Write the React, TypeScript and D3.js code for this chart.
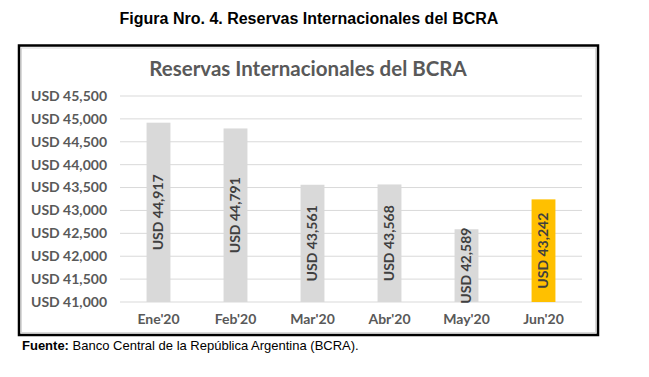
import React from "react";
import * as d3 from "d3";

const categories: string[] = ["Ene'20", "Feb'20", "Mar'20", "Abr'20", "May'20", "Jun'20"];
const reserves: number[] = [44917, 44791, 43561, 43568, 42589, 43242];
const yTicks: number[] = [41000, 41500, 42000, 42500, 43000, 43500, 44000, 44500, 45000, 45500];

const W = 649;
const H = 377;
const plot = { left: 120, right: 582, top: 96, bottom: 302 };
const FONT = "Lato, 'Open Sans', sans-serif";
const GREY_TEXT = "#595959";

const fmt = (v: number) => "USD " + d3.format(",")(v);

export default function App() {
  const x = d3
    .scaleBand<string>()
    .domain(categories)
    .range([plot.left, plot.right])
    .paddingInner(0.69)
    .paddingOuter(0.345);
  const y = d3.scaleLinear().domain([41000, 45500]).range([plot.bottom, plot.top]);

  return (
    <svg
      width={W}
      height={H}
      style={{ position: "absolute", left: 0, top: 0, background: "#fff" }}
    >
      <rect x={0} y={0} width={W} height={H} fill="#fff" />
      <text
        x={309}
        y={24}
        textAnchor="middle"
        fontFamily="'Liberation Sans', Arial, sans-serif"
        fontWeight="bold"
        fontSize={16}
        fill="#000"
      >
        Figura Nro. 4. Reservas Internacionales del BCRA
      </text>
      {/* chart frame */}
      <rect x={19} y={45.5} width={579} height={289.5} fill="#fff" stroke="#000" strokeWidth={2.5} />
      <rect x={21.5} y={48} width={574} height={284.5} fill="none" stroke="#d9d9d9" strokeWidth={1} />
      <text
        x={308}
        y={76}
        textAnchor="middle"
        fontFamily={FONT}
        fontWeight="bold"
        fontSize={20.5}
        fill={GREY_TEXT}
      >
        Reservas Internacionales del BCRA
      </text>
      {/* gridlines */}
      {yTicks.map((t) => (
        <line
          key={"g" + t}
          x1={plot.left}
          x2={plot.right}
          y1={y(t)}
          y2={y(t)}
          stroke="#d9d9d9"
          strokeWidth={1}
        />
      ))}
      {yTicks.map((t) => (
        <text
          key={"t" + t}
          x={107}
          y={y(t)}
          dy="0.35em"
          textAnchor="end"
          fontFamily={FONT}
          fontWeight="bold"
          fontSize={14}
          fill={GREY_TEXT}
        >
          {fmt(t)}
        </text>
      ))}
      {/* bars */}
      {categories.map((c, i) => {
        const v = reserves[i];
        const bx = x(c) as number;
        const bw = x.bandwidth();
        const top = y(v);
        const isLast = i === categories.length - 1;
        const cy = (top + plot.bottom) / 2;
        const cx = bx + bw / 2;
        return (
          <g key={c}>
            <rect
              x={bx}
              y={top}
              width={bw}
              height={plot.bottom - top}
              fill={isLast ? "#ffc000" : "#d9d9d9"}
            />
            <text
              transform={`translate(${cx},${cy}) rotate(-90)`}
              textAnchor="middle"
              dy="0.35em"
              fontFamily={FONT}
              fontWeight="bold"
              fontSize={14}
              fill="#404040"
            >
              {fmt(v)}
            </text>
            <text
              x={cx}
              y={319}
              dy="0.35em"
              textAnchor="middle"
              fontFamily={FONT}
              fontWeight="bold"
              fontSize={14}
              fill={GREY_TEXT}
            >
              {c}
            </text>
          </g>
        );
      })}
      <text
        x={22}
        y={350}
        fontFamily="'Liberation Sans', Arial, sans-serif"
        fontSize={13}
        fill="#000"
      >
        <tspan fontWeight="bold">Fuente:</tspan> Banco Central de la República Argentina (BCRA).
      </text>
    </svg>
  );
}
